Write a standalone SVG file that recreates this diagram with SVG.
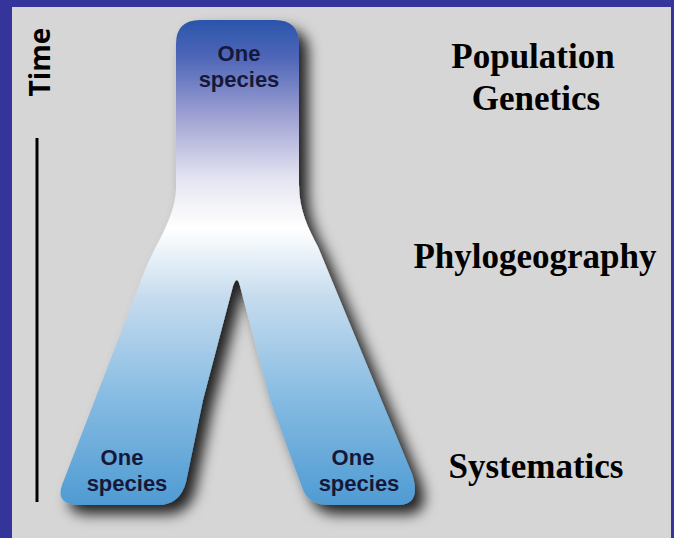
<svg xmlns="http://www.w3.org/2000/svg" width="674" height="538" viewBox="0 0 674 538">
<style>
.sp{font-family:"Liberation Sans",Arial,sans-serif;font-weight:bold;font-size:22px;fill:#16183a;text-anchor:middle}
.lab{font-family:"Liberation Serif","Times New Roman",serif;font-weight:bold;font-size:35px;fill:#000;text-anchor:middle}
</style>
<defs>
<linearGradient id="g" gradientUnits="userSpaceOnUse" x1="0" y1="20" x2="0" y2="505">
<stop offset="0" stop-color="#2a55ab"/>
<stop offset="0.08" stop-color="#5067b8"/>
<stop offset="0.2" stop-color="#a0a2d3"/>
<stop offset="0.33" stop-color="#e6e6f2"/>
<stop offset="0.43" stop-color="#ffffff"/>
<stop offset="0.57" stop-color="#c6dcee"/>
<stop offset="0.78" stop-color="#86bbe2"/>
<stop offset="1" stop-color="#4f9bd3"/>
</linearGradient>
<filter id="sh" x="-20%" y="-20%" width="150%" height="150%">
<feDropShadow dx="9" dy="9" stdDeviation="7" flood-color="#000" flood-opacity="0.85"/>
</filter>
</defs>
<rect width="674" height="538" fill="#35349a"/>
<rect x="12" y="7" width="659" height="531" fill="#d6d6d6"/>
<g id="time-axis">
<text transform="translate(50,62) rotate(-90)" font-family="'Open Sans','DejaVu Sans',sans-serif" font-weight="bold" font-size="28" text-anchor="middle" fill="#000">Time</text>
<line x1="37" y1="138" x2="37" y2="502" stroke="#000" stroke-width="3"/>
</g>
<g id="tree">
<path filter="url(#sh)" fill="url(#g)" d="M176,44 Q176,20 200,20 L275,20 Q299,20 299,44 L299,185 C299,210 308,228 318,247 L412,474 Q422,505 398,505 L330,505 Q307,505 302,487 L270,400 L240,286 Q237,274 233,286 L203,400 L186,482 Q180,505 158,505 L80,505 Q55,505 62,485 L145,270 C156,243 174,220 176,190 Z"/>
</g>
<g id="node-top">
<text class="sp"><tspan x="239" y="61">One</tspan><tspan x="239" y="87">species</tspan></text>
</g>
<g id="node-left">
<text class="sp"><tspan x="122" y="465">One</tspan><tspan x="127" y="491">species</tspan></text>
</g>
<g id="node-right">
<text class="sp"><tspan x="353" y="465">One</tspan><tspan x="359" y="491">species</tspan></text>
</g>
<g id="labels">
<text class="lab" x="533" y="68">Population</text>
<text class="lab" x="536" y="110">Genetics</text>
<text class="lab" x="535" y="268">Phylogeography</text>
<text class="lab" x="536" y="478">Systematics</text>
</g>
<g id="connectors"/>
</svg>
